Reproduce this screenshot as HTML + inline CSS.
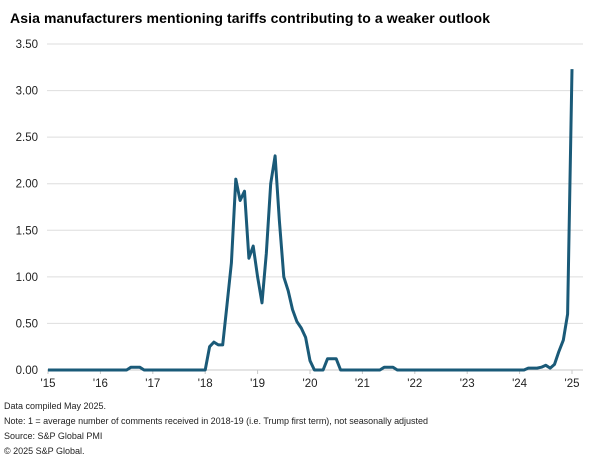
<!DOCTYPE html>
<html><head><meta charset="utf-8"><style>
body{margin:0;background:#fff;font-family:"Liberation Sans",Arial,sans-serif;}
svg{display:block}
</style></head><body>
<svg id="c" width="603" height="461">
<text x="10" y="23" font-size="14" font-weight="bold" fill="#000" textLength="480">Asia manufacturers mentioning tariffs contributing to a weaker outlook</text>
<g id="grid"></g><g id="xt"></g>
<path id="line" fill="none" stroke="#1a5a78" stroke-width="3" stroke-linejoin="round"/>
<g font-size="9" fill="#222">
<text x="4" y="409">Data compiled May 2025.</text>
<text x="4" y="424" textLength="424">Note: 1 = average number of comments received in 2018-19 (i.e. Trump first term), not seasonally adjusted</text>
<text x="4" y="439">Source: S&amp;P Global PMI</text>
<text x="4" y="454">© 2025 S&amp;P Global.</text>
</g>
</svg>
<script>
const yTicks=[0,0.5,1,1.5,2,2.5,3,3.5];
const xLabels=["'15","'16","'17","'18","'19","'20","'21","'22","'23","'24","'25"];
const values=[
0,0,0,0,0,0,0,0,0,0,0,0,
0,0,0,0,0,0,0,0.03,0.03,0.03,0,0,
0,0,0,0,0,0,0,0,0,0,0,0,
0,0.25,0.3,0.27,0.27,0.7,1.15,2.05,1.82,1.92,1.2,1.33,
1.0,0.72,1.25,2.0,2.3,1.6,1.0,0.85,0.65,0.52,0.45,0.35,
0.1,0,0,0,0.12,0.12,0.12,0,0,0,0,0,
0,0,0,0,0,0.03,0.03,0.03,0,0,0,0,
0,0,0,0,0,0,0,0,0,0,0,0,
0,0,0,0,0,0,0,0,0,0,0,0,
0,0,0.02,0.02,0.02,0.03,0.05,0.02,0.06,0.2,0.32,0.6,
3.23];
const x0=48,yr=52.4,yB=370,yT=44;
const X=i=>x0+i*yr/12;
const Y=v=>yB-(v/3.5)*(yB-yT);
const NS="http://www.w3.org/2000/svg";
const g=document.getElementById('grid'),xt=document.getElementById('xt');
yTicks.forEach(t=>{
 const l=document.createElementNS(NS,'line');
 l.setAttribute('x1',47);l.setAttribute('x2',583);l.setAttribute('y1',Y(t));l.setAttribute('y2',Y(t));
 l.setAttribute('stroke',t===0?'#c8c8c8':'#dedede');l.setAttribute('stroke-width',1);
 
 
 g.appendChild(l);
 const tx=document.createElementNS(NS,'text');
 tx.setAttribute('x',38);tx.setAttribute('y',Y(t)+4);tx.setAttribute('text-anchor','end');tx.setAttribute('font-size','11.5');tx.setAttribute('fill','#222');
 tx.textContent=t.toFixed(2);
 
 
 g.appendChild(tx);
});
xLabels.forEach((s,i)=>{
 const tk=document.createElementNS(NS,'line');
 const x=x0+i*yr;
 tk.setAttribute('x1',x);tk.setAttribute('x2',x);tk.setAttribute('y1',yB);tk.setAttribute('y2',yB+4);tk.setAttribute('stroke','#c8c8c8');
 
 
 xt.appendChild(tk);
 const tx=document.createElementNS(NS,'text');
 tx.setAttribute('x',x);tx.setAttribute('y',yB+17);tx.setAttribute('text-anchor','middle');tx.setAttribute('font-size','11.5');tx.setAttribute('fill','#222');
 tx.textContent=s;
 
 
 xt.appendChild(tx);
});
document.getElementById('line').setAttribute('d',values.map((v,i)=>(i?'L':'M')+X(i).toFixed(1)+','+Y(v).toFixed(1)).join(''));
</script>
</body></html>
